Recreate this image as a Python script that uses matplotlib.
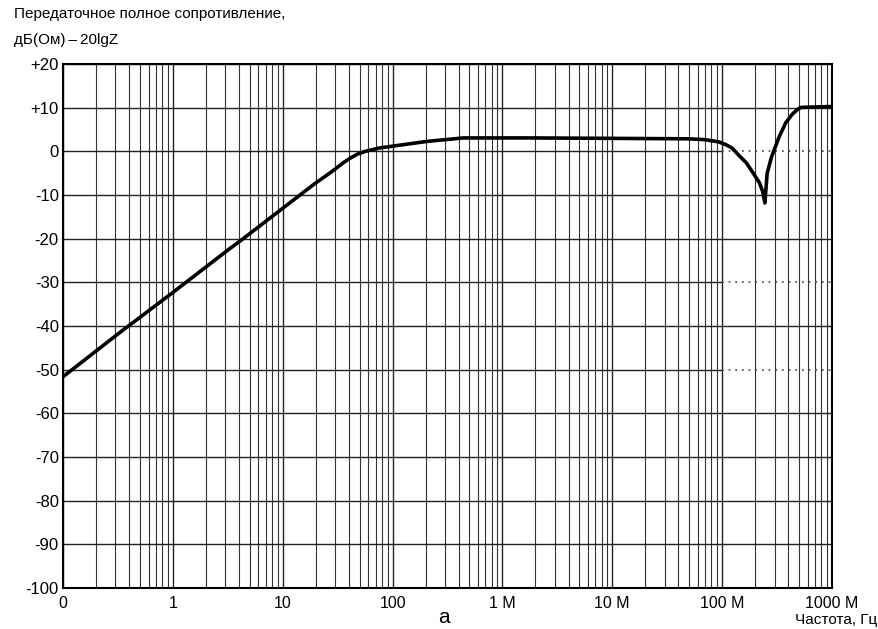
import matplotlib
matplotlib.use("Agg")
import matplotlib.pyplot as plt
import numpy as np

plt.rcParams['font.family'] = ['Liberation Sans', 'DejaVu Sans']

# frequency in axis units (0.1 ... 1e6, labelled 0 ... 1000 M)
freq = [0.1, 0.34, 1.0, 3.2, 4.2, 7.9, 19.5, 27, 36, 42, 48, 56, 76, 205, 440,
        1800, 10000, 50000, 70000, 93000, 107000, 123000, 141000, 166000,
        190000, 219000, 234000, 245000, 257000, 282000, 331000, 380000,
        437000, 490000, 525000, 1000000]
# transfer impedance, dB
level = [-51.6, -41.2, -32.3, -22.5, -20.3, -15.0, -7.4, -4.9, -2.5, -1.4,
         -0.6, 0.0, 0.8, 2.3, 3.1, 3.1, 3.0, 2.9, 2.7, 2.2, 1.6, 0.8, -0.8,
         -2.6, -4.8, -7.2, -9.2, -11.8, -5.0, -1.2, 3.4, 6.6, 8.6, 9.7, 10.1,
         10.3]

decades = [0.1, 1, 10, 100, 1e3, 1e4, 1e5, 1e6]
decade_labels = ["0", "1", "10", "100", "1 M", "10 M", "100 M", "1000 M"]
y_ticks = list(range(20, -101, -10))
y_labels = ["+20", "+10"] + [str(v) for v in range(0, -101, -10)]
dotted_levels = [0, -30, -50]

fig = plt.figure(figsize=(8.79, 6.29), dpi=100)
ax = fig.add_axes([0.0717, 0.0652, 0.8748, 0.8328])

ax.set_xscale('log')
ax.set_xlim(decades[0], decades[-1])
ax.set_ylim(-100, 20)

# grid
for d in decades[:-1]:
    for m in range(1, 10):
        x = d * m
        if m == 1:
            ax.axvline(x, color='#222222', lw=1.0, zorder=1)
        else:
            ax.axvline(x, color='#333333', lw=0.8, zorder=1)
for yv in y_ticks:
    if yv in dotted_levels:
        ax.hlines(yv, decades[0], 1e5, color='#222222', lw=1.0, zorder=1)
        ax.hlines(yv, 1e5, decades[-1], color='#444444', lw=1.2,
                  linestyles=(0, (1, 3)), zorder=1)
    else:
        ax.axhline(yv, color='#222222', lw=1.0, zorder=1)

ax.plot(freq, level, color='black', lw=2.6, zorder=3, solid_capstyle='round',
        solid_joinstyle='round')

ax.set_xticks(decades)
ax.set_xticklabels(decade_labels, fontsize=11.5)
ax.xaxis.set_minor_locator(matplotlib.ticker.NullLocator())
ax.set_yticks(y_ticks)
ax.set_yticklabels(y_labels, fontsize=12)
ax.tick_params(length=0)
ax.tick_params(axis='x', pad=6)
ax.tick_params(axis='y', pad=3)
for s in ax.spines.values():
    s.set_linewidth(1.5)
    s.set_color('black')

fig.text(0.016, 0.977, "Передаточное полное сопротивление,", fontsize=11,
         va='center', ha='left')
fig.text(0.016, 0.936, "дБ(Ом)\u2009\u2013\u200920lgZ", fontsize=11,
         va='center', ha='left')
fig.text(0.505, 0.018, "а", fontsize=15, va='center', ha='center')
fig.text(0.998, 0.015, "Частота, Гц", fontsize=11, va='center', ha='right')

fig.savefig("out.png", dpi=100)
